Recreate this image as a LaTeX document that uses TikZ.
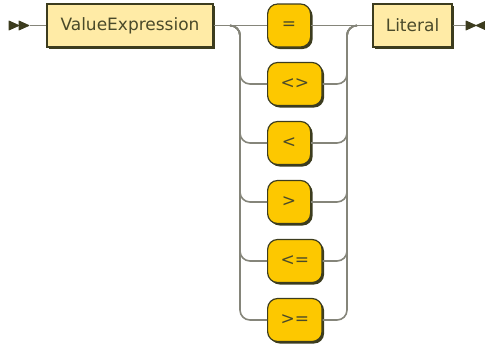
\documentclass[tikz,border=0pt]{standalone}
\usepackage{fontspec}
\setmainfont{DejaVu Sans}
\usetikzlibrary{shadows}
\definecolor{ink}{HTML}{4A4A2A}
\definecolor{rail}{HTML}{85857A}
\definecolor{edge}{HTML}{3C3C1E}
\definecolor{ntfill}{HTML}{FFEBA6}
\definecolor{tfill}{HTML}{FDC800}
\tikzset{
  base/.style={align=center, inner sep=3pt, minimum height=21.5pt, font=\fontsize{8.5}{10}\selectfont, text=ink, draw=edge, line width=0.6pt,
    drop shadow={shadow xshift=1pt, shadow yshift=-1pt, fill=edge, opacity=1}},
  nonterm/.style={base, fill=ntfill},
  term/.style={base, fill=tfill, rounded corners=5pt, minimum width=21.5pt, inner xsep=6.5pt},
  railline/.style={draw=rail, line width=0.8pt, rounded corners=5pt},
  tip/.style={fill=edge, draw=edge, line width=0.4pt, line join=round},
}

\begin{document}
\begin{tikzpicture}[x=0.5pt, y=-0.5pt]
  \useasboundingbox (0,0) rectangle (485,343);
  % start and end markers
  \coordinate (begin) at (30,25.5);
  \coordinate (finish) at (466,25.5);
  \draw[tip] (9,21) -- (19,25.5) -- (9,30) -- cycle;
  \draw[tip] (19,21) -- (29,25.5) -- (19,30) -- cycle;
  \draw[tip] (466,21) -- (476,25.5) -- (466,30) -- cycle;
  \draw[tip] (486,21) -- (476,25.5) -- (486,30) -- cycle;
  % nonterminals
  \node[nonterm, minimum width=83pt] (vexpr) at (130,25.5) {ValueExpression};
  \node[nonterm, minimum width=39.5pt] (lit) at (412.5,25.5) {Literal};
  % operator choices
  \foreach \nm/\sym/\y in {eq/{=}/25.5, ne/{<>}/84, lt/{<}/143, gt/{>}/202, le/{<=}/261, ge/{>=}/320}
    \node[term, anchor=west] (\nm) at (267,\y) {\sym};
  \coordinate (split) at (230,25.5);
  \coordinate (join) at (357,25.5);
  % main line
  \draw[railline] (begin) -- (vexpr.west);
  \draw[railline] (vexpr.east) -- (eq.west);
  \draw[railline] (eq.east) -- (lit.west);
  \draw[railline] (lit.east) -- (finish);
  % branches
  \foreach \nm in {ne,lt,gt,le,ge} {
    \draw[railline] (split) -- ++(10,0) |- (\nm.west);
    \draw[railline] (\nm.east) -| ([xshift=-5pt]join) -- (join);
  }
\end{tikzpicture}
\end{document}
